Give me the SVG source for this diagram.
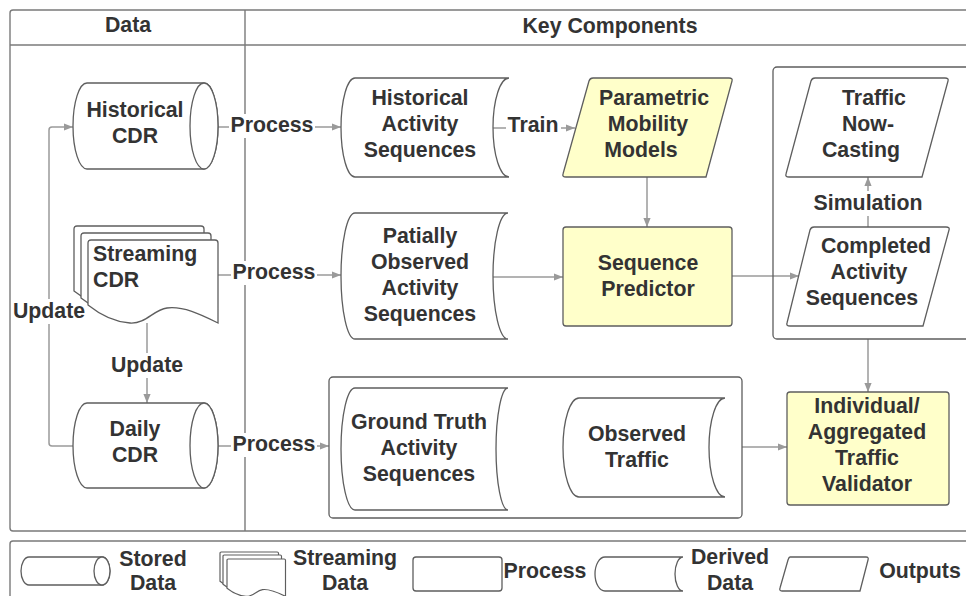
<svg xmlns="http://www.w3.org/2000/svg" width="966" height="596" viewBox="0 0 966 596">
  <style>
    .frame { fill: none; stroke: #7a7a7a; stroke-width: 1.4; }
    .shape { fill: #ffffff; stroke: #5e5e5e; stroke-width: 1.3; }
    .hl { fill: #ffffca; stroke: #5e5e5e; stroke-width: 1.3; }
    .group { fill: none; stroke: #5e5e5e; stroke-width: 1.3; }
    .conn { fill: none; stroke: #9a9a9a; stroke-width: 1.5; }
    .lbl-bg { fill: #ffffff; }
    text { font-family: "Liberation Sans", Arial, sans-serif; font-weight: bold; font-size: 21.3px; fill: #333333; }
    .c { text-anchor: middle; }
  </style>
  <defs>
    <marker id="arrow" viewBox="0 0 10 10" refX="10" refY="5" markerWidth="9" markerHeight="9" markerUnits="userSpaceOnUse" orient="auto">
      <path d="M0,1 L10,5 L0,9 Z" fill="#9a9a9a"/>
    </marker>
    <!-- document sheet with wavy lower edge, 130 x 83 -->
    <path id="doc" d="M0,3 Q0,0 3,0 L127,0 Q130,0 130,3 L130,83 C112,74 95,66 79,68 C65,70 58,84 42,83 C25,82 10,73 0,65 Z"/>
  </defs>

  <rect width="966" height="596" fill="#ffffff"/>

  <!-- swimlane frame -->
  <g id="frame">
    <rect class="frame" x="10" y="10" width="970" height="521" rx="3"/>
    <line class="frame" x1="10" y1="45" x2="966" y2="45"/>
    <line class="frame" x1="245" y1="10" x2="245" y2="531"/>
    <text class="c" x="128" y="32">Data</text>
    <text class="c" x="610" y="33">Key Components</text>
  </g>

  <!-- connectors -->
  <g id="connectors">
    <line class="conn" x1="218" y1="127" x2="341" y2="127" marker-end="url(#arrow)"/>
    <line class="conn" x1="218" y1="275" x2="341" y2="275" marker-end="url(#arrow)"/>
    <line class="conn" x1="218" y1="446" x2="329" y2="446" marker-end="url(#arrow)"/>
    <line class="conn" x1="493" y1="128" x2="575" y2="128" marker-end="url(#arrow)"/>
    <line class="conn" x1="493" y1="277" x2="563" y2="277" marker-end="url(#arrow)"/>
    <line class="conn" x1="647" y1="177" x2="647" y2="227" marker-end="url(#arrow)"/>
    <line class="conn" x1="732" y1="276" x2="799" y2="276" marker-end="url(#arrow)"/>
    <line class="conn" x1="868" y1="227" x2="868" y2="177" marker-end="url(#arrow)"/>
    <line class="conn" x1="868" y1="339" x2="868" y2="392" marker-end="url(#arrow)"/>
    <line class="conn" x1="742" y1="447" x2="787" y2="447" marker-end="url(#arrow)"/>
    <line class="conn" x1="147" y1="323" x2="147" y2="403" marker-end="url(#arrow)"/>
    <path class="conn" d="M73,446 L52,446 Q49,446 49,443 L49,130 Q49,127 52,127 L73,127" marker-end="url(#arrow)"/>

    <!-- connector labels -->
    <rect class="lbl-bg" x="229" y="114" width="86" height="24"/>
    <text class="c" x="272" y="132">Process</text>
    <rect class="lbl-bg" x="231" y="261" width="86" height="24"/>
    <text class="c" x="274" y="279">Process</text>
    <rect class="lbl-bg" x="231" y="433" width="86" height="24"/>
    <text class="c" x="274" y="451">Process</text>
    <rect class="lbl-bg" x="506" y="114" width="55" height="24"/>
    <text class="c" x="533" y="132">Train</text>
    <rect class="lbl-bg" x="810" y="191" width="116" height="25"/>
    <text class="c" x="868" y="210">Simulation</text>
    <rect class="lbl-bg" x="11" y="299" width="77" height="25"/>
    <text class="c" x="49" y="318">Update</text>
    <rect class="lbl-bg" x="108" y="353" width="78" height="25"/>
    <text class="c" x="147" y="372">Update</text>
  </g>

  <!-- data stores -->
  <g id="historical-cdr">
    <path class="shape" d="M87,83 L204,83 A14 43 0 0 1 204,169 L87,169 A14 43 0 0 1 87,83 Z"/>
    <ellipse class="shape" cx="204" cy="126" rx="14" ry="43"/>
    <text class="c" x="135" y="117">Historical</text>
    <text class="c" x="135" y="143">CDR</text>
  </g>

  <g id="streaming-cdr">
    <use href="#doc" class="shape" transform="translate(74,226)"/>
    <use href="#doc" class="shape" transform="translate(81,233)"/>
    <use href="#doc" class="shape" transform="translate(88,240)"/>
    <text x="93" y="261">Streaming</text>
    <text x="93" y="287">CDR</text>
  </g>

  <g id="daily-cdr">
    <path class="shape" d="M87,403 L204,403 A14 42.5 0 0 1 204,488 L87,488 A14 42.5 0 0 1 87,403 Z"/>
    <ellipse class="shape" cx="204" cy="445.5" rx="14" ry="42.5"/>
    <text class="c" x="135" y="436">Daily</text>
    <text class="c" x="135" y="462">CDR</text>
  </g>

  <!-- derived data -->
  <g id="historical-activity">
    <path class="shape" d="M355,78 L509,78 A16 49.5 0 0 0 509,177 L355,177 A14 49.5 0 0 1 355,78 Z"/>
    <text class="c" x="420" y="105">Historical</text>
    <text class="c" x="420" y="131">Activity</text>
    <text class="c" x="420" y="157">Sequences</text>
  </g>

  <g id="partial-activity">
    <path class="shape" d="M355,213 L508,213 A15 63 0 0 0 508,339 L355,339 A14 63 0 0 1 355,213 Z"/>
    <text class="c" x="420" y="243">Patially</text>
    <text class="c" x="420" y="269">Observed</text>
    <text class="c" x="420" y="295">Activity</text>
    <text class="c" x="420" y="321">Sequences</text>
  </g>

  <!-- models and predictor -->
  <g id="mobility-models">
    <path class="hl" d="M593,78 L729,78 Q733,78 732,81 L706,177 L566,177 Q562,177 563,174 L589,81 Q590,78 593,78 Z"/>
    <text class="c" x="654" y="105">Parametric</text>
    <text class="c" x="648" y="131">Mobility</text>
    <text class="c" x="641" y="157">Models</text>
  </g>

  <g id="sequence-predictor">
    <rect class="hl" x="563" y="227" width="169" height="99" rx="3"/>
    <text class="c" x="648" y="270">Sequence</text>
    <text class="c" x="648" y="296">Predictor</text>
  </g>

  <!-- outputs -->
  <g id="outputs-group">
    <rect class="group" x="773" y="67" width="200" height="272" rx="4"/>
  </g>

  <g id="traffic-nowcasting">
    <path class="shape" d="M815,78 L945,78 Q949,78 948,81 L922,177 L789,177 Q785,177 786,174 L811,81 Q812,78 815,78 Z"/>
    <text class="c" x="874" y="105">Traffic</text>
    <text class="c" x="868" y="131">Now-</text>
    <text class="c" x="861" y="157">Casting</text>
  </g>

  <g id="completed-activity">
    <path class="shape" d="M814,227 L946,227 Q950,227 949,230 L923,326 L790,326 Q786,326 787,323 L810,230 Q811,227 814,227 Z"/>
    <text class="c" x="876" y="253">Completed</text>
    <text class="c" x="869" y="279">Activity</text>
    <text class="c" x="862" y="305">Sequences</text>
  </g>

  <!-- validation inputs -->
  <g id="validation-group">
    <rect class="group" x="329" y="377" width="413" height="141" rx="4"/>
  </g>

  <g id="ground-truth">
    <path class="shape" d="M355,388 L508,388 A12 61 0 0 0 508,510 L355,510 A14 61 0 0 1 355,388 Z"/>
    <text class="c" x="419" y="429">Ground Truth</text>
    <text class="c" x="419" y="455">Activity</text>
    <text class="c" x="419" y="481">Sequences</text>
  </g>

  <g id="observed-traffic">
    <path class="shape" d="M579,398 L725,398 A16 49.5 0 0 0 725,497 L579,497 A16 49.5 0 0 1 579,398 Z"/>
    <text class="c" x="637" y="441">Observed</text>
    <text class="c" x="637" y="467">Traffic</text>
  </g>

  <g id="traffic-validator">
    <rect class="hl" x="787" y="392" width="162" height="113" rx="3"/>
    <text class="c" x="867" y="413">Individual/</text>
    <text class="c" x="867" y="439">Aggregated</text>
    <text class="c" x="867" y="465">Traffic</text>
    <text class="c" x="867" y="491">Validator</text>
  </g>

  <!-- legend -->
  <g id="legend">
    <rect class="frame" x="10" y="541" width="970" height="70" rx="3"/>
    <path class="shape" d="M29,557 L102,557 A8 14 0 0 1 102,585 L29,585 A8 14 0 0 1 29,557 Z"/>
    <ellipse class="shape" cx="102" cy="571" rx="8" ry="14"/>
    <text class="c" x="153" y="566">Stored</text>
    <text class="c" x="153" y="590">Data</text>

    <use href="#doc" class="shape" transform="translate(220,552) scale(0.45)" style="stroke-width:2.6"/>
    <use href="#doc" class="shape" transform="translate(223,555) scale(0.45)" style="stroke-width:2.6"/>
    <use href="#doc" class="shape" transform="translate(227,559) scale(0.45)" style="stroke-width:2.6"/>
    <text class="c" x="345" y="565">Streaming</text>
    <text class="c" x="345" y="590">Data</text>

    <rect class="shape" x="413" y="557" width="89" height="34" rx="3"/>
    <text class="c" x="545" y="578">Process</text>

    <path class="shape" d="M605,557 L683,557 A8 17 0 0 0 683,591 L605,591 A10 17 0 0 1 605,557 Z"/>
    <text class="c" x="730" y="564">Derived</text>
    <text class="c" x="730" y="590">Data</text>

    <path class="shape" d="M790,557 L866,557 Q869,557 868,560 L860,591 L782,591 Q779,591 780,588 L788,560 Q789,557 790,557 Z"/>
    <text class="c" x="920" y="578">Outputs</text>
  </g>
</svg>
